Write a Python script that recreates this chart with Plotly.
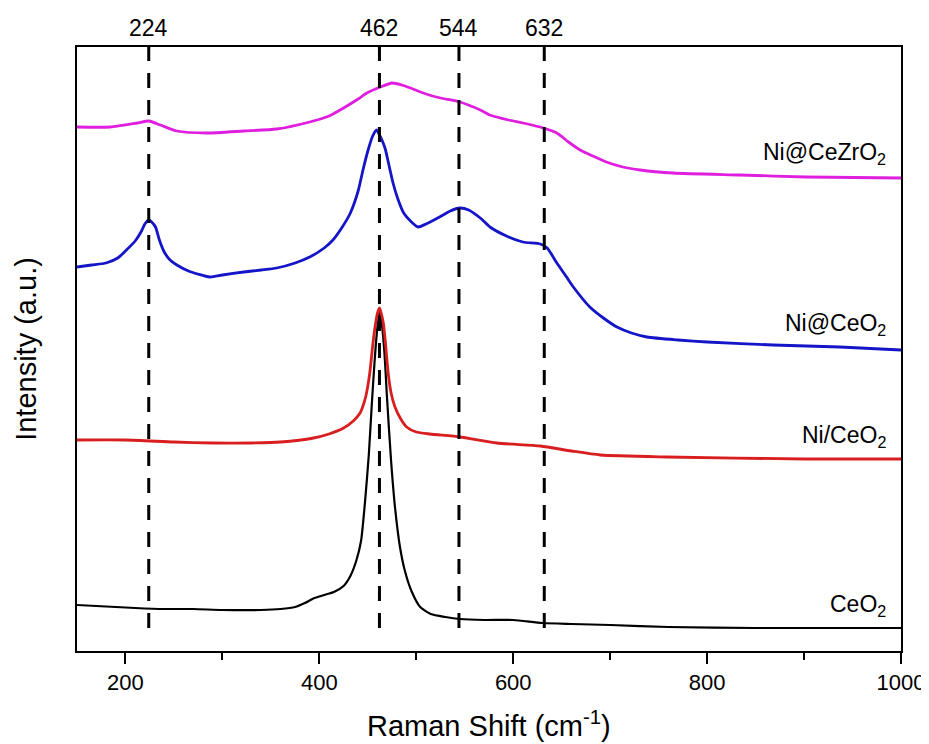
import plotly.graph_objects as go

# ---- data (Raman shift in cm^-1, intensity in a.u.) ----
ceo2_x = [150,170,190,210,240,270,300,340,360,375,385,395,405,415,425,432,438,443,447,451,454,457,460,462,464,467,470,474,478,483,488,495,504,515,530,545,570,600,630,660,700,760,850,1000]
ceo2_y = [46,45,44,43,42,42,41,41,42,44,48,53,56,59,65,75,90,110,148,196,245,290,325,338,330,300,250,190,144,105,81,60,44,37,34,32,31,31,28,27,26,24,23,23]

nice_x = [150,200,250,290,330,360,394,410,425,435,442,445,448,450,452,455,457,460,462,464,466,468,471,474,478,484,490,500,514,545,583,628,660,690,758,900,1000]
nice_y = [211,211,209,208,208,209,213,217,223,230,238,245,255,265,278,305,321,338,343,337,328,310,278,258,244,232,224,219,217,214,208,205,200,196,194,192,192]

niat_x = [150,165,180,192,201,210,216,220,224,227,231,235,240,246,253,265,287,300,322,340,356,375,390,405,414,423,432,440,445,450,455,459,462,465,468,472,476,481,487,495,502,510,524,535,545,554,566,576,593,610,628,635,645,655,662,679,693,707,722,738,770,800,868,937,1000]
niat_y = [384,386,388,393,401,410,419,427,431,429,424,411,399,391,386,380,374,376,379,381,383,388,394,403,411,423,438,460,481,500,515,521,516,510,502,485,468,452,438,429,424,427,434,440,443,441,433,424,415,409,407,403,388,374,364,344,333,324,318,314,311,309,306,304,301]

nizr_x = [150,184,212,224,236,253,284,322,356,390,410,425,440,449,463,475,485,494,510,525,545,566,576,595,610,631,645,657,669,682,696,713,731,765,834,903,1000]
nizr_y = [524,524,528,530,526,520,518,520,522,529,535,543,552,558,564,568,566,563,557,553,549,541,536,531,528,523,518,509,501,495,489,484,481,478,476,474,473]

peak_positions = [224, 462, 544, 632]
series_names = ["CeO<sub>2</sub>", "Ni/CeO<sub>2</sub>", "Ni@CeO<sub>2</sub>", "Ni@CeZrO<sub>2</sub>"]
label_y = [46, 215, 327, 498]
colors = ["#000000", "#D81E1E", "#1414C8", "#E01EE0"]

FONT = "Arial, Liberation Sans, sans-serif"

fig = go.Figure()
for xs, ys, c, w in [(ceo2_x, ceo2_y, colors[0], 2.2), (nice_x, nice_y, colors[1], 2.8),
                     (niat_x, niat_y, colors[2], 2.8), (nizr_x, nizr_y, colors[3], 2.8)]:
    fig.add_trace(go.Scatter(x=xs, y=ys, mode="lines",
                             line=dict(color=c, width=w, shape="spline", smoothing=0.6),
                             showlegend=False))

for p in peak_positions:
    fig.add_shape(type="line", x0=p, x1=p, y0=23, y1=604, xref="x", yref="y",
                  line=dict(color="black", width=3, dash="15px,12px"))
    fig.add_annotation(x=p, y=1, xref="x", yref="paper", text=str(p), showarrow=False,
                       yanchor="bottom", yshift=4, font=dict(size=23, color="black", family=FONT))

for name, ly in zip(series_names, label_y):
    fig.add_annotation(x=987, y=ly, xref="x", yref="y", text=name, showarrow=False,
                       xanchor="right", yanchor="middle", font=dict(size=23, color="black", family=FONT))

# x-axis title placed as an annotation so it can sit lower than the margin allows
fig.add_annotation(x=0.5, y=0, xref="paper", yref="paper", text="Raman Shift (cm<sup>-1</sup>)",
                   showarrow=False, xanchor="center", yanchor="middle", yshift=-73,
                   font=dict(size=29, color="black", family=FONT))

# page body adds an 8px offset, so the figure is sized to fit the window
fig.update_layout(
    width=921, height=736,
    margin=dict(l=69, r=28, t=39, b=93),
    plot_bgcolor="white", paper_bgcolor="white",
    font=dict(family=FONT, color="black"),
    xaxis=dict(range=[150, 1000], showgrid=False, zeroline=False, automargin=False,
               showline=True, linecolor="black", linewidth=2, mirror=True,
               ticks="outside", ticklen=11, tickwidth=2, tickcolor="black",
               tick0=0, dtick=200, tickfont=dict(size=22),
               ticklabelstandoff=0,
               minor=dict(ticks="outside", ticklen=7, tickwidth=2, tickcolor="black", dtick=100, tick0=0)),
    yaxis=dict(range=[0, 604], showgrid=False, zeroline=False, showticklabels=False, automargin=False,
               showline=True, linecolor="black", linewidth=2, mirror=True, ticks="",
               title=dict(text="Intensity (a.u.)", font=dict(size=29), standoff=30)),
)

fig.write_html("out.html")
